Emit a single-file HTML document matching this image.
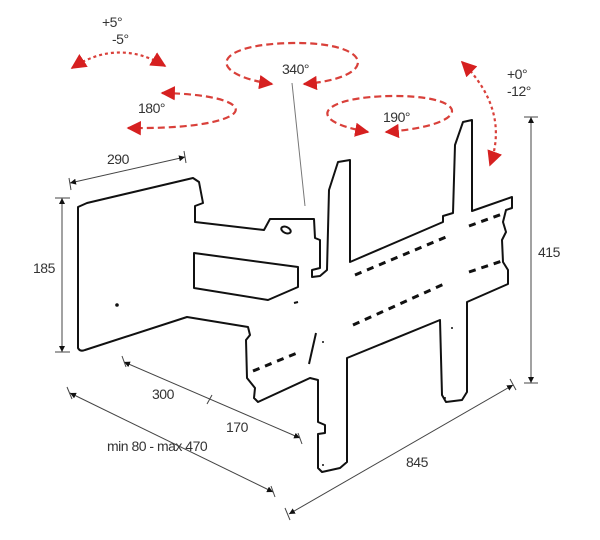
<!DOCTYPE html>
<html><head><style>
html,body{margin:0;padding:0;background:#fff;width:600px;height:540px;overflow:hidden}
svg{display:block}
text{font-family:"Liberation Sans",sans-serif;font-size:14px;fill:#333;letter-spacing:-0.5px}
</style></head><body>
<svg width="600" height="540" viewBox="0 0 600 540" xmlns="http://www.w3.org/2000/svg">
<defs>
<marker id="ar" viewBox="0 0 10 10" refX="9" refY="5" markerWidth="7" markerHeight="7" orient="auto-start-reverse"><path d="M0,0 L10,5 L0,10 z" fill="#d62020"/></marker>
<marker id="ar2" viewBox="0 0 10 10" refX="9" refY="5" markerWidth="6.5" markerHeight="6.5" orient="auto-start-reverse"><path d="M0,0 L10,5 L0,10 z" fill="#d62020"/></marker>
<marker id="ak" viewBox="0 0 10 10" refX="10" refY="5" markerWidth="6" markerHeight="6" orient="auto-start-reverse"><path d="M0,0 L10,5 L0,10 z" fill="#111"/></marker>
</defs>
<g fill="none" stroke="#d9403a" stroke-width="2.2" stroke-dasharray="7,4">
<path d="M72,68 Q118,38 165,66" marker-start="url(#ar)" marker-end="url(#ar)" stroke-dasharray="3,3"/>
<path d="M272,84 C205,74 212,44 293,43 C375,42 380,78 304,84" marker-start="url(#ar2)" marker-end="url(#ar2)"/>
<path d="M162,93 C270,95 260,130 128,128" marker-start="url(#ar2)" marker-end="url(#ar2)"/>
<path d="M368,132 C300,120 323,96 395,96 C470,96 475,125 386,132" marker-start="url(#ar2)" marker-end="url(#ar2)"/>
<path d="M462,62 Q510,110 490,165" marker-start="url(#ar)" marker-end="url(#ar)" stroke-dasharray="3,3"/>
</g>
<text x="102" y="27">+5°</text>
<text x="112" y="44">-5°</text>
<text x="282" y="74">340°</text>
<text x="138" y="113">180°</text>
<text x="383" y="122">190°</text>
<text x="507" y="79">+0°</text>
<text x="507" y="96">-12°</text>
<text x="107" y="164">290</text>
<text x="33" y="273">185</text>
<text x="538" y="257">415</text>
<text x="152" y="399">300</text>
<text x="226" y="432">170</text>
<text x="107" y="451">min 80 - max 470</text>
<text x="406" y="467">845</text>
<line x1="292" y1="83" x2="305" y2="206" stroke="#777" stroke-width="1"/>
<g stroke="#444" stroke-width="1" fill="none">
<line x1="70" y1="183" x2="185" y2="157" marker-start="url(#ak)" marker-end="url(#ak)"/>
<line x1="69" y1="178" x2="71" y2="190"/><line x1="184" y1="151" x2="186" y2="163"/>
<line x1="62" y1="198" x2="62" y2="352" marker-start="url(#ak)" marker-end="url(#ak)"/>
<line x1="55" y1="198" x2="70" y2="198"/><line x1="55" y1="352" x2="70" y2="352"/>
<line x1="531" y1="117" x2="531" y2="383" marker-start="url(#ak)" marker-end="url(#ak)"/>
<line x1="524" y1="117" x2="538" y2="117"/><line x1="524" y1="383" x2="538" y2="383"/>
<line x1="124" y1="362" x2="300" y2="438" marker-start="url(#ak)" marker-end="url(#ak)"/>
<line x1="122" y1="356" x2="126" y2="367"/><line x1="298" y1="433" x2="302" y2="444"/>
<line x1="207" y1="404" x2="212" y2="395"/>
<line x1="70" y1="393" x2="273" y2="492" marker-start="url(#ak)" marker-end="url(#ak)"/>
<line x1="67" y1="387" x2="72" y2="399"/><line x1="271" y1="486" x2="275" y2="497"/>
<line x1="289" y1="514" x2="513" y2="385" marker-start="url(#ak)" marker-end="url(#ak)"/>
<line x1="285" y1="508" x2="290" y2="520"/><line x1="510" y1="379" x2="516" y2="390"/>
</g>
<g fill="none" stroke="#111" stroke-width="2" stroke-linejoin="round">
<path d="M78,207 L78,348 Q80,352 85,350 L187,317 L248,327 L250,335 L246,340 L247,378 L255,388 L254,398 L258,402 L310,378 L318,380 L318,422 L325,425 L325,433 L318,434 L318,468 L322,472 L340,468 L347,462 L347,358 L440,320 L442,395 L446,402 L462,400 L467,392 L467,302 L508,284 L508,270 L503,262 L502,240 L506,232 L503,222 L506,210 L512,208 L512,197 L472,211 L472,120 L463,122 L455,145 L453,213 L443,216 L443,222 L350,262 L350,160 L338,162 L329,190 L327,270 L320,276 L312,277 L312,270 L320,268 L320,240 L315,238 L314,219 L270,219 L264,230 L195,222 L195,206 L203,203 L199,182 L193,178 L87,203 Z"/>
<path d="M194,253 L298,267 L298,287 L268,300 L194,288 Z"/>
<path d="M294,303 L298,302"/>
<path d="M316,333 L309,364"/>
<ellipse cx="286" cy="230" rx="5" ry="3" transform="rotate(25 286 230)"/>
</g>
<g stroke="#111" stroke-width="3" stroke-dasharray="7,6" fill="none">
<path d="M355,275 L446,237"/>
<path d="M469,226 L505,213"/>
<path d="M353,325 L444,284"/>
<path d="M469,272 L505,260"/>
<path d="M253,371 L297,353"/>
</g>
<g fill="#111">
<circle cx="117" cy="305" r="1.8"/><circle cx="323" cy="342" r="1"/><circle cx="452" cy="328" r="1"/>
<circle cx="445" cy="398" r="1"/><circle cx="323" cy="465" r="1"/>
</g>
</svg>
</body></html>
